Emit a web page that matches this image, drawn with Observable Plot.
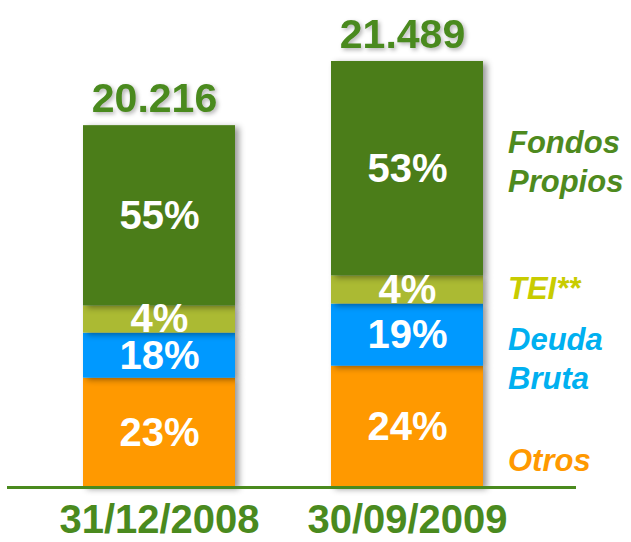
<!DOCTYPE html>
<html><head><meta charset="utf-8">
<script src="https://cdn.jsdelivr.net/npm/d3@7"></script>
<script src="https://cdn.jsdelivr.net/npm/@observablehq/plot@0.6"></script>
<style>
html,body{margin:0;padding:0;background:#fff;}
#wrap{position:relative;width:631px;height:542px;font-family:"Liberation Sans",Arial,sans-serif;}
.leg{position:absolute;left:508px;font-weight:bold;font-style:italic;font-size:31px;line-height:39px;white-space:pre;}
.bars rect{filter:drop-shadow(4px 2px 3px rgba(0,0,0,0.4));}
.tot text{filter:drop-shadow(2px 2px 2px rgba(0,0,0,0.3));}
</style></head>
<body><div id="wrap"></div>
<script>
const fechas = ["31/12/2008", "30/09/2009"];
const series = ["Otros", "Deuda Bruta", "TEI**", "Fondos Propios"];
const totales = [20216, 21489];
const pct2008 = [23, 18, 4, 55];
const pct2009 = [24, 19, 4, 53];
// drawn segment heights (arbitrary units)
const alto2008 = [109, 45, 27, 180];
const alto2009 = [121, 62, 28, 214];
const colores = ["#ff9900", "#0099ff", "#abba33", "#4b7d19"];
const legendColores = ["#ff9900", "#00b0f0", "#c8cc00", "#4e8a1e"];

const rows = [];
[[alto2008, pct2008], [alto2009, pct2009]].forEach(([alto, pct], i) => {
  series.forEach((s, j) => rows.push({fecha: fechas[i], serie: s, alto: alto[j], pct: pct[j]}));
});
const tops = fechas.map((f, i) => ({fecha: f, total: totales[i], y: d3.sum(i ? alto2009 : alto2008)}));
const fmt = d3.formatLocale({decimal: ",", thousands: ".", grouping: [3], currency: ["", "€"]}).format(",d");
const green = "#4a8a1e";

const chart = Plot.plot({
  width: 631, height: 542,
  marginTop: 61, marginBottom: 55, marginLeft: 7, marginRight: 55,
  style: {fontFamily: "Liberation Sans, Arial, sans-serif", background: "white"},
  x: {domain: fechas, range: [35, 531], paddingInner: 0.387, paddingOuter: 0.1935, label: null},
  y: {domain: [0, d3.sum(alto2009)], axis: null},
  color: {domain: series, range: colores},
  marks: [
    Plot.barY(rows, Plot.stackY({x: "fecha", y: "alto", z: "serie", fill: "serie", order: series, className: "bars"})),
    Plot.text(rows, Plot.stackY({x: "fecha", y: "alto", z: "serie", order: series, text: d => d.pct + "%",
      fill: "white", fontSize: 40, fontWeight: "bold", lineAnchor: "middle"})),
    Plot.text(tops, {x: "fecha", y: "y", text: d => fmt(d.total), fill: green, fontSize: 41,
      fontWeight: "bold", lineAnchor: "bottom", dy: -14, dx: -5, className: "tot"}),
    Plot.ruleY([0], {stroke: green, strokeWidth: 3}),
    Plot.axisX({tickSize: 0, tickPadding: 17, fontSize: 40, fontWeight: "bold", fill: green, label: null, textStroke: "none"})
  ]
});
const wrap = document.getElementById("wrap");
wrap.appendChild(chart);
const legend = [
  {t: "Fondos\nPropios", top: 123},
  {t: "TEI**", top: 269},
  {t: "Deuda\nBruta", top: 320},
  {t: "Otros", top: 441}
];
const order = [3, 2, 1, 0];
legend.forEach((l, k) => {
  const d = document.createElement("div");
  d.className = "leg";
  d.style.top = l.top + "px";
  d.style.color = legendColores[order[k]];
  d.textContent = l.t;
  wrap.appendChild(d);
});
</script></body></html>
